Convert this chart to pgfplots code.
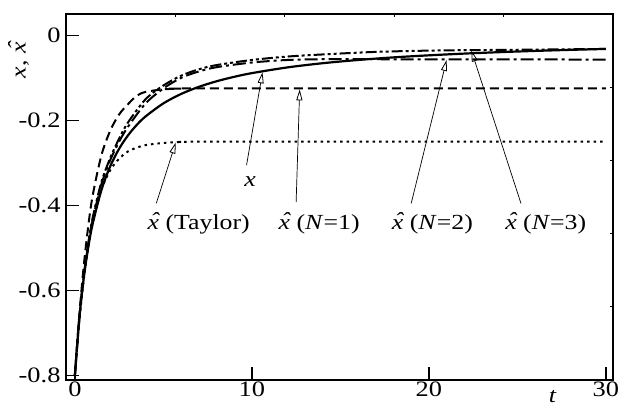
\documentclass[border=0pt]{standalone}
\usepackage{fontspec}
\setmainfont{Liberation Serif}[FakeStretch=1.2]
\usepackage{pgfplots}
\pgfplotsset{compat=1.18}
\usetikzlibrary{arrows.meta}

% x with a detached hat, as in the reference
\newcommand{\xh}{\textit{\ooalign{x\cr\hidewidth\kern0.12em\raisebox{0.25ex}{\char"02C6}\hidewidth\cr}}}
\tikzset{lbl/.style={font=\fontsize{21.5}{24}\selectfont, inner sep=0pt},
  callout/.style={line width=0.7pt, -{Triangle[open, length=11pt, width=6pt, line width=0.8pt]}}}

\begin{document}
\begin{tikzpicture}[x=1pt,y=1pt]
\begin{axis}[
  at={(0,0)}, anchor=south west,
  scale only axis, width=547pt, height=366pt,
  xmin=-0.5, xmax=30.4, ymin=-0.81, ymax=0.05,
  clip mode=individual,
  axis line style={line width=1.5pt},
  tick style={line width=1.5pt, black},
  tick align=inside, major tick length=13pt,
  xtick={0,10,20,30}, xticklabels={0,10,20,30},
  ytick={-0.8,-0.6,-0.4,-0.2,0}, yticklabels={-0.8,-0.6,-0.4,-0.2,0},
  xtick pos=bottom, ytick pos=left,
  tick label style={font=\fontsize{22}{24}\selectfont},
  yticklabel style={xshift=-2pt},
  xticklabel style={yshift=2pt},
]

% exact solution x
\addplot[black, line width=2.2pt, smooth] coordinates {
(0,-0.8) (0.25,-0.6667) (0.5,-0.5714) (0.75,-0.5) (1,-0.4444) (1.5,-0.3636)
(2,-0.3077) (2.5,-0.2667) (3,-0.2353) (3.5,-0.2105) (4,-0.1905) (5,-0.16)
(6,-0.1379) (7,-0.1212) (8,-0.1081) (9,-0.0976) (10,-0.0889) (12,-0.0755)
(14,-0.0656) (16,-0.058) (18,-0.0519) (20,-0.0471) (22,-0.043) (24,-0.0396)
(26,-0.0367) (28,-0.0342) (30,-0.032)
};

% Taylor
\addplot[black, line width=2pt, dash pattern=on 2.5pt off 4pt, smooth] coordinates {
(0,-0.8) (0.25,-0.673) (0.5,-0.575) (0.75,-0.5) (1,-0.442) (1.5,-0.363)
(2,-0.317) (2.5,-0.29) (3,-0.273) (3.5,-0.264) (4,-0.258) (5,-0.253)
(6,-0.251) (8,-0.25) (30,-0.25)
};

% N=1
\addplot[black, line width=2pt, dash pattern=on 9pt off 5pt, smooth] coordinates {
(0,-0.8) (0.25,-0.659) (0.5,-0.543) (0.75,-0.451) (1,-0.378) (1.5,-0.282)
(2,-0.224) (2.5,-0.186) (3,-0.162) (3.5,-0.142) (4,-0.133) (5,-0.127)
(6,-0.1255) (7,-0.125) (30,-0.125)
};

% N=2
\addplot[black, line width=2pt, dash pattern=on 13pt off 4pt on 3pt off 4pt, smooth] coordinates {
(0,-0.8) (0.25,-0.665) (0.5,-0.568) (0.75,-0.493) (1,-0.435) (1.5,-0.35)
(2,-0.293) (2.5,-0.25) (3,-0.215) (4,-0.16) (5,-0.125)
(6,-0.1) (7,-0.085) (8,-0.075) (10,-0.064) (12,-0.058) (14,-0.0562)
(16,-0.0562) (20,-0.0565) (30,-0.057)
};

% N=3
\addplot[black, line width=2pt, dash pattern=on 11pt off 3pt on 3pt off 3pt on 3pt off 3pt, smooth] coordinates {
(0,-0.8) (0.25,-0.665) (0.5,-0.566) (0.75,-0.49) (1,-0.43) (1.5,-0.345)
(2,-0.288) (2.5,-0.243) (3,-0.205) (4,-0.15) (5,-0.118)
(6,-0.095) (7,-0.08) (8,-0.07) (10,-0.058) (12,-0.05) (14,-0.045)
(17,-0.039) (20,-0.036) (22,-0.035) (25,-0.034) (30,-0.032)
};

% annotations
\draw[callout] (axis cs:9.7,-0.305) -- (axis cs:10.6,-0.087);
\draw[callout] (axis cs:4.6,-0.395) -- (axis cs:5.7,-0.252);
\draw[callout] (axis cs:12.5,-0.392) -- (axis cs:12.7,-0.127);
\draw[callout] (axis cs:19.0,-0.395) -- (axis cs:21.0,-0.058);
\draw[callout] (axis cs:25.2,-0.395) -- (axis cs:22.4,-0.036);

\node[lbl] at (axis cs:9.9,-0.343) {\textit{x}};
\node[lbl] at (axis cs:7.0,-0.445) {\xh\ (Taylor)};
\node[lbl] at (axis cs:13.8,-0.445) {\xh\ (\textit{N}=1)};
\node[lbl] at (axis cs:20.2,-0.445) {\xh\ (\textit{N}=2)};
\node[lbl] at (axis cs:26.6,-0.445) {\xh\ (\textit{N}=3)};

% small ticks on top and right edges
\draw[line width=1pt] (rel axis cs:0.2,1) -- ++(0pt,-3pt);
\draw[line width=1pt] (rel axis cs:0.4,1) -- ++(0pt,-3pt);
\draw[line width=1pt] (rel axis cs:0.6,1) -- ++(0pt,-3pt);
\draw[line width=1pt] (rel axis cs:0.8,1) -- ++(0pt,-3pt);
\draw[line width=1pt] (rel axis cs:1,0.2) -- ++(-3pt,0pt);
\draw[line width=1pt] (rel axis cs:1,0.4) -- ++(-3pt,0pt);
\draw[line width=1pt] (rel axis cs:1,0.6) -- ++(-3pt,0pt);
\draw[line width=1pt] (rel axis cs:1,0.8) -- ++(-3pt,0pt);

% axis labels
\node[lbl, rotate=90] at (rel axis cs:-0.08,0.874) {\textit{x}, \xh};
\node[lbl] at (rel axis cs:0.89,-0.046) {\textit{t}};
\end{axis}
\pgfresetboundingbox
\path[use as bounding box] (-66,-28) rectangle (560,380);
\end{tikzpicture}
\end{document}
